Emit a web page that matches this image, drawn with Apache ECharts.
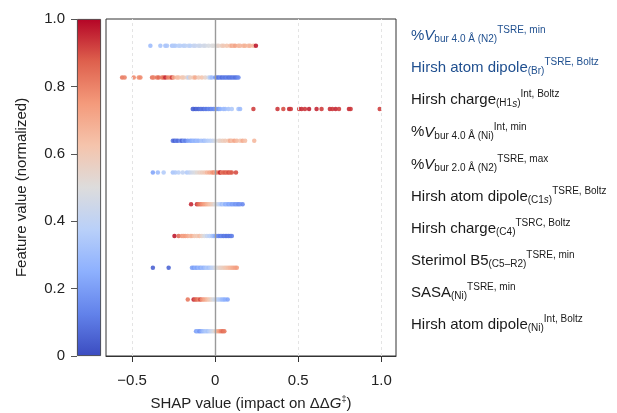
<!DOCTYPE html>
<html>
<head>
<meta charset="utf-8">
<script src="https://cdn.jsdelivr.net/npm/echarts@6/dist/echarts.min.js"></script>
<style>
  html, body { margin: 0; padding: 0; background: #fff; }
  #chart { width: 617px; height: 413px; }
</style>
</head>
<body>
<div id="chart"></div>
<script>
  // feature names, top to bottom (rich text markup for sub/superscripts)
  let featureLabels = [
    '{m|%}{mi|V}{sb|bur 4.0 Å (N2)}{sp|TSRE, min}',
    '{m|Hirsh atom dipole}{sb|(Br)}{sp|TSRE, Boltz}',
    '{m|Hirsh charge}{sb|(H1}{sbi|s}{sb|)}{sp|Int, Boltz}',
    '{m|%}{mi|V}{sb|bur 4.0 Å (Ni)}{sp|Int, min}',
    '{m|%}{mi|V}{sb|bur 2.0 Å (N2)}{sp|TSRE, max}',
    '{m|Hirsh atom dipole}{sb|(C1}{sbi|s}{sb|)}{sp|TSRE, Boltz}',
    '{m|Hirsh charge}{sb|(C4)}{sp|TSRC, Boltz}',
    '{m|Sterimol B5}{sb|(C5–R2)}{sp|TSRE, min}',
    '{m|SASA}{sb|(Ni)}{sp|TSRE, min}',
    '{m|Hirsh atom dipole}{sb|(Ni)}{sp|Int, Boltz}'
  ]
  let labelColors = ['#1f4f8f', '#1f4f8f', '#1a1a1a', '#1a1a1a', '#1a1a1a', '#1a1a1a', '#1a1a1a', '#1a1a1a', '#1a1a1a', '#1a1a1a']

  // [SHAP value, normalized feature value] per feature
  let vburN2Min = [[-0.39,0.30],[-0.33,0.33],[-0.30,0.32],[-0.29,0.34],[-0.26,0.33],[-0.25,0.36],[-0.24,0.35],[-0.22,0.37],[-0.21,0.38],[-0.19,0.36],[-0.18,0.39],[-0.16,0.40],[-0.15,0.38],[-0.13,0.41],[-0.12,0.42],[-0.10,0.43],[-0.09,0.44],[-0.07,0.45],[-0.06,0.46],[-0.04,0.48],[-0.02,0.49],[-0.01,0.50],[0.01,0.52],[0.02,0.55],[0.04,0.58],[0.05,0.60],[0.07,0.62],[0.09,0.64],[0.10,0.70],[0.11,0.66],[0.12,0.72],[0.14,0.68],[0.15,0.66],[0.17,0.67],[0.18,0.68],[0.20,0.66],[0.21,0.67],[0.23,0.66],[0.245,0.97]]
  let dipoleBr = [[-0.56,0.82],[-0.545,0.80],[-0.49,0.78],[-0.46,0.76],[-0.45,0.78],[-0.38,0.83],[-0.37,0.80],[-0.35,0.82],[-0.34,0.85],[-0.32,0.81],[-0.31,0.84],[-0.30,0.95],[-0.285,0.82],[-0.27,0.79],[-0.26,0.92],[-0.25,0.72],[-0.23,0.66],[-0.22,0.64],[-0.20,0.62],[-0.19,0.60],[-0.17,0.55],[-0.16,0.40],[-0.15,0.58],[-0.13,0.62],[-0.12,0.70],[-0.10,0.60],[-0.08,0.62],[-0.06,0.55],[-0.04,0.45],[-0.03,0.35],[-0.02,0.30],[0.00,0.20],[0.01,0.12],[0.02,0.10],[0.03,0.14],[0.04,0.08],[0.05,0.12],[0.06,0.10],[0.07,0.13],[0.08,0.09],[0.09,0.11],[0.10,0.10],[0.11,0.12],[0.12,0.09],[0.13,0.11],[0.14,0.15]]
  let chargeH1s = [[-0.135,0.05],[-0.13,0.08],[-0.12,0.04],[-0.11,0.07],[-0.10,0.06],[-0.09,0.09],[-0.08,0.10],[-0.07,0.08],[-0.06,0.12],[-0.05,0.10],[-0.04,0.14],[-0.03,0.12],[-0.02,0.16],[-0.01,0.15],[0.00,0.18],[0.01,0.22],[0.02,0.20],[0.03,0.25],[0.05,0.28],[0.06,0.30],[0.08,0.32],[0.10,0.35],[0.14,0.33],[0.15,0.30],[0.23,0.92],[0.375,0.93],[0.41,0.90],[0.445,0.95],[0.455,0.93],[0.505,0.92],[0.52,0.94],[0.54,0.93],[0.565,0.96],[0.61,0.95],[0.64,0.92],[0.69,0.94],[0.705,0.93],[0.725,0.95],[0.745,0.92],[0.805,0.95],[0.815,0.93],[0.99,0.92]]
  let vburNiMin = [[-0.255,0.10],[-0.245,0.05],[-0.235,0.12],[-0.225,0.08],[-0.21,0.15],[-0.20,0.06],[-0.19,0.18],[-0.18,0.12],[-0.165,0.20],[-0.15,0.22],[-0.14,0.25],[-0.13,0.28],[-0.12,0.26],[-0.11,0.30],[-0.10,0.28],[-0.085,0.32],[-0.07,0.30],[-0.06,0.34],[-0.045,0.36],[-0.03,0.38],[-0.015,0.42],[0.00,0.47],[0.02,0.52],[0.03,0.55],[0.045,0.58],[0.06,0.60],[0.08,0.62],[0.09,0.70],[0.10,0.64],[0.115,0.72],[0.13,0.66],[0.15,0.62],[0.165,0.70],[0.18,0.64],[0.235,0.66]]
  let vbur2N2Max = [[-0.375,0.22],[-0.345,0.30],[-0.31,0.36],[-0.255,0.33],[-0.24,0.35],[-0.22,0.38],[-0.195,0.40],[-0.17,0.35],[-0.155,0.40],[-0.14,0.45],[-0.125,0.48],[-0.11,0.52],[-0.095,0.55],[-0.08,0.58],[-0.065,0.60],[-0.05,0.66],[-0.035,0.70],[-0.02,0.74],[-0.01,0.78],[0.00,0.72],[0.01,0.80],[0.025,0.85],[0.03,0.96],[0.04,0.82],[0.05,0.86],[0.06,0.88],[0.07,0.84],[0.08,0.90],[0.09,0.86],[0.10,0.88],[0.125,0.90]]
  let dipoleC1s = [[-0.145,0.95],[-0.11,0.93],[-0.10,0.85],[-0.09,0.82],[-0.08,0.78],[-0.07,0.75],[-0.06,0.72],[-0.05,0.68],[-0.04,0.65],[-0.03,0.62],[-0.02,0.58],[-0.01,0.55],[0.00,0.50],[0.01,0.47],[0.02,0.42],[0.03,0.38],[0.04,0.30],[0.05,0.35],[0.06,0.25],[0.07,0.28],[0.08,0.22],[0.09,0.25],[0.10,0.20],[0.11,0.22],[0.12,0.18],[0.13,0.20],[0.14,0.16],[0.15,0.18],[0.165,0.15]]
  let chargeC4 = [[-0.245,0.97],[-0.22,0.85],[-0.20,0.76],[-0.19,0.72],[-0.18,0.74],[-0.165,0.70],[-0.15,0.66],[-0.14,0.68],[-0.125,0.62],[-0.11,0.60],[-0.095,0.64],[-0.08,0.55],[-0.065,0.48],[-0.05,0.42],[-0.035,0.38],[-0.02,0.35],[-0.01,0.30],[0.00,0.25],[0.01,0.18],[0.02,0.15],[0.03,0.12],[0.04,0.14],[0.05,0.10],[0.06,0.12],[0.07,0.09],[0.08,0.11],[0.09,0.10],[0.10,0.12]]
  let sterimolB5 = [[-0.375,0.05],[-0.28,0.06],[-0.14,0.22],[-0.13,0.20],[-0.12,0.25],[-0.11,0.22],[-0.10,0.28],[-0.09,0.24],[-0.08,0.30],[-0.07,0.27],[-0.06,0.32],[-0.05,0.35],[-0.04,0.32],[-0.03,0.36],[-0.02,0.40],[-0.01,0.42],[0.00,0.47],[0.01,0.50],[0.02,0.52],[0.03,0.55],[0.04,0.56],[0.05,0.58],[0.06,0.60],[0.07,0.62],[0.08,0.64],[0.09,0.66],[0.10,0.68],[0.11,0.70],[0.12,0.72],[0.13,0.74]]
  let sasaNi = [[-0.165,0.82],[-0.13,0.95],[-0.12,0.88],[-0.11,0.85],[-0.10,0.80],[-0.09,0.90],[-0.08,0.78],[-0.07,0.74],[-0.06,0.70],[-0.05,0.66],[-0.04,0.62],[-0.03,0.58],[-0.02,0.52],[-0.01,0.48],[0.00,0.45],[0.01,0.40],[0.02,0.38],[0.03,0.35],[0.04,0.30],[0.05,0.28],[0.06,0.25],[0.075,0.22]]
  let dipoleNi = [[-0.115,0.20],[-0.105,0.25],[-0.095,0.18],[-0.085,0.22],[-0.075,0.28],[-0.065,0.32],[-0.055,0.35],[-0.045,0.33],[-0.035,0.38],[-0.025,0.42],[-0.015,0.46],[-0.005,0.50],[0.005,0.60],[0.015,0.68],[0.025,0.74],[0.035,0.80],[0.045,0.85],[0.055,0.82]]

  let xTicks = [-0.5, 0, 0.5, 1.0]
  let gridLines = [-0.5, 0.5, 1.0]

  let font = '"Liberation Sans", Arial, Helvetica, sans-serif'
  let coolwarm = ['#3b4cc0', '#6282ea', '#8db0fe', '#b9d0f9', '#dddcdc', '#f5c4ac', '#f49a7b', '#de604d', '#b40426']

  let rows = [vburN2Min, dipoleBr, chargeH1s, vburNiMin, vbur2N2Max, dipoleC1s, chargeC4, sterimolB5, sasaNi, dipoleNi]
  let points = []
  rows.forEach(function (row, r) {
    row.forEach(function (p) {
      points.push([p[0], rows.length - 1 - r, p[1]])
    })
  })

  let chart = echarts.init(document.getElementById('chart'))
  let option = {
    animation: false,
    textStyle: {fontFamily: font},
    grid: [
      {left: 77, width: 24, top: 19, bottom: 57, outerBoundsMode: 'none'},
      {left: 106, right: 221, top: 19, bottom: 57, outerBoundsMode: 'none', show: true, borderColor: '#333', borderWidth: 1},
      {left: 106, right: 221, top: 36, bottom: 88, outerBoundsMode: 'none'}
    ],
    visualMap: {
      type: 'continuous', show: false, min: 0, max: 1, dimension: 2, seriesIndex: 1,
      inRange: {color: coolwarm}
    },
    xAxis: [
      {gridIndex: 0, type: 'category', data: ['c'], show: false},
      {
        gridIndex: 1, type: 'value', min: -0.657, max: 1.088,
        axisLine: {show: true, onZero: false, lineStyle: {color: '#333', width: 1}},
        axisTick: {show: true, customValues: xTicks, length: 6, lineStyle: {color: '#333'}},
        axisLabel: {
          customValues: xTicks, fontSize: 15, color: '#222', margin: 17, fontFamily: font,
          formatter: function (v) {
            if (v === 0) return '0'
            let s = Math.abs(v).toFixed(1)
            return v < 0 ? '\u2212' + s : s
          }
        },
        splitLine: {show: false},
        name: '{n|SHAP value (impact on ΔΔ}{i|G}{s|‡}{n|)}',
        nameLocation: 'middle', nameGap: 39,
        nameTextStyle: {
          rich: {
            n: {fontSize: 15, color: '#222', fontFamily: font},
            i: {fontSize: 15, color: '#222', fontStyle: 'italic', fontFamily: font},
            s: {fontSize: 9, color: '#222', fontFamily: font, padding: [0, 0, 8, 0]}
          }
        }
      },
      {gridIndex: 2, type: 'value', show: false}
    ],
    yAxis: [
      {
        gridIndex: 0, type: 'value', min: 0, max: 1, interval: 0.2,
        axisLine: {show: false},
        axisTick: {show: true, length: 6, lineStyle: {color: '#555'}},
        axisLabel: {
          fontSize: 15, color: '#222', margin: 12, fontFamily: font,
          formatter: function (v) { return v === 0 ? '0' : v.toFixed(1) }
        },
        splitLine: {show: false},
        name: 'Feature value (normalized)',
        nameLocation: 'middle', nameGap: 48,
        nameTextStyle: {fontSize: 15, color: '#222', fontFamily: font}
      },
      {gridIndex: 1, type: 'value', min: -0.78, max: 9.84, show: false},
      {
        gridIndex: 2, type: 'category', data: featureLabels, inverse: true, boundaryGap: false,
        position: 'right',
        axisLine: {show: false},
        axisTick: {show: false},
        axisLabel: {
          interval: 0, margin: 15, align: 'left',
          formatter: function (v) { return v },
          color: function (v, i) { return labelColors[i] },
          rich: {
            m: {fontSize: 15, fontFamily: font},
            mi: {fontSize: 15, fontStyle: 'italic', fontFamily: font},
            sb: {fontSize: 10, fontFamily: font, padding: [7, 0, 0, 0]},
            sbi: {fontSize: 10, fontStyle: 'italic', fontFamily: font, padding: [7, 0, 0, 0]},
            sp: {fontSize: 10, fontFamily: font, padding: [0, 0, 11, 0]}
          }
        }
      }
    ],
    series: [
      {
        type: 'bar', xAxisIndex: 0, yAxisIndex: 0, data: [1], barWidth: '100%', silent: true,
        itemStyle: {
          borderColor: '#333', borderWidth: 0.8,
          color: {
            type: 'linear', x: 0, y: 1, x2: 0, y2: 0,
            colorStops: coolwarm.map(function (c, i) { return {offset: i / (coolwarm.length - 1), color: c} })
          }
        }
      },
      {
        type: 'scatter', xAxisIndex: 1, yAxisIndex: 1, data: points, symbolSize: 4.5, z: 3,
        itemStyle: {opacity: 0.9}
      },
      {
        type: 'line', xAxisIndex: 1, yAxisIndex: 1, data: [], z: 1,
        markLine: {
          silent: true, symbol: ['none', 'none'], label: {show: false},
          data: gridLines.map(function (g) {
            return {xAxis: g, lineStyle: {color: '#e4e4e4', type: [3, 3], width: 1}}
          }).concat([{xAxis: 0, lineStyle: {color: '#9a9a9a', type: 'solid', width: 1.4}}])
        }
      }
    ]
  }
  chart.setOption(option)
  window.onresize = function () {
    chart.resize()
  }
</script>
</body>
</html>
